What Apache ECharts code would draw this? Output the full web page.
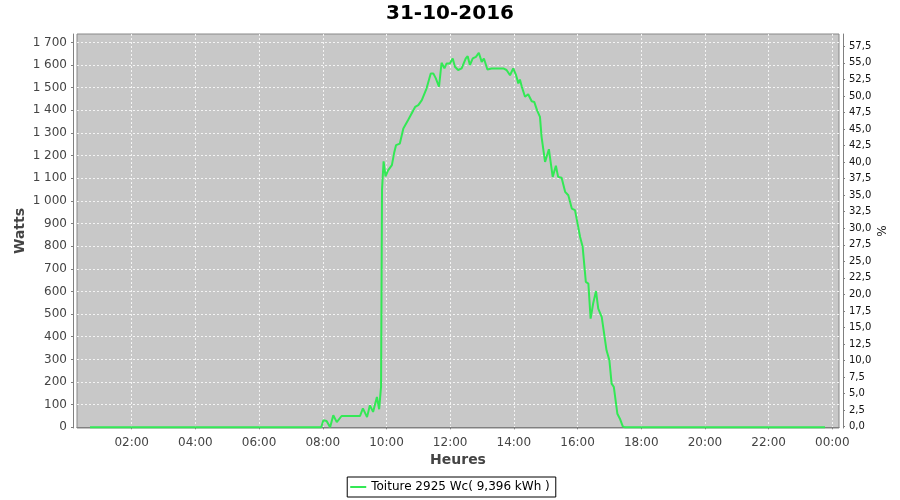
<!DOCTYPE html>
<html><head><meta charset="utf-8">
<script src="https://cdn.jsdelivr.net/npm/echarts@6/dist/echarts.min.js"></script>
<style>html,body{margin:0;padding:0;background:#fff}#c{width:900px;height:500px}</style>
</head><body><div id="c"></div>
<script>
const chartTitle = '31-10-2016';
const seriesName = 'Toiture 2925 Wc( 9,396 kWh )';
const xName = 'Heures', yName = 'Watts', y2Name = '%';
// time in decimal hours
const hours = [
0.69,1.0,1.5,2.0,2.5,3.0,3.5,4.0,4.5,5.0,
5.5,6.0,6.5,7.0,7.5,7.95,8.02,8.12,8.23,8.33,
8.44,8.59,8.8,9.0,9.17,9.26,9.39,9.48,9.58,9.70,
9.77,9.83,9.86,9.91,9.97,10.05,10.17,10.24,10.30,10.42,
10.53,10.68,10.90,11.00,11.11,11.26,11.39,11.47,11.55,11.65,
11.73,11.82,11.89,11.99,12.08,12.15,12.25,12.36,12.41,12.49,
12.55,12.62,12.71,12.81,12.90,12.99,13.06,13.17,13.30,13.46,
13.67,13.77,13.88,13.98,14.07,14.14,14.19,14.25,14.35,14.45,
14.56,14.64,14.73,14.82,14.87,14.98,15.10,15.22,15.32,15.39,
15.50,15.61,15.71,15.82,15.92,16.08,16.16,16.26,16.34,16.41,
16.49,16.58,16.65,16.76,16.91,17.00,17.07,17.14,17.25,17.33,
17.42,17.49,18.0,18.5,19.0,19.5,20.0,20.5,21.0,21.5,
22.0,22.5,23.0,23.5,23.77
];
const watts = [
0,0,0,0,0,0,0,0,0,0,
0,0,0,0,0,0,31,28,0,53,
23,50,50,50,50,84,45,97,68,134,
80,180,1050,1175,1108,1135,1158,1211,1246,1253,
1320,1357,1415,1423,1445,1497,1563,1563,1541,1504,
1610,1585,1607,1607,1629,1592,1578,1585,1578,1629,
1639,1600,1629,1636,1654,1614,1629,1580,1585,1585,
1585,1578,1555,1585,1555,1519,1536,1504,1460,1471,
1440,1437,1400,1371,1283,1172,1228,1106,1155,1106,
1102,1040,1025,966,959,841,797,642,635,480,
547,602,524,487,340,296,193,178,60,38,
4,0,0,0,0,0,0,0,0,0,
0,0,0,0,0
];
const xTicks = [2,4,6,8,10,12,14,16,18,20,22,24];
const leftTicks = [0,100,200,300,400,500,600,700,800,900,1000,1100,1200,1300,1400,1500,1600,1700];
const rightTicks = [0,2.5,5,7.5,10,12.5,15,17.5,20,22.5,25,27.5,30,32.5,35,37.5,40,42.5,45,47.5,50,52.5,55,57.5];

const FONT = 'DejaVu Sans';
const data = hours.map((h, i) => [h, watts[i]]);
const pad2 = n => (n < 10 ? '0' : '') + n;
const fmtW = v => v >= 1000 ? Math.floor(v / 1000) + ' ' + String(v % 1000).padStart(3, '0') : String(v);

const chart = echarts.init(document.getElementById('c'), null, {renderer: 'canvas'});
chart.setOption({
  animation: false,
  backgroundColor: '#ffffff',
  title: {
    text: chartTitle, left: 'center', top: 4, padding: 0,
    textStyle: {fontFamily: FONT, fontSize: 20, fontWeight: 'bold', color: '#000'}
  },
  legend: {
    data: [{name: seriesName, icon: 'rect'}], left: 'center', top: 477,
    borderColor: '#000', borderWidth: 1, borderRadius: 0, padding: [3, 6, 3, 3],
    itemWidth: 16, itemHeight: 2, itemStyle: {color: '#33e855', borderWidth: 0},
    textStyle: {fontFamily: FONT, fontSize: 12, color: '#000', lineHeight: 14}
  },
  grid: {
    left: 77, right: 61, top: 34, bottom: 72, show: true,
    backgroundColor: '#c8c8c8', borderColor: '#888', borderWidth: 1
  },
  xAxis: {
    type: 'value', min: 0.2823, max: 24.21, splitNumber: 12, minInterval: 2, maxInterval: 2,
    offset: 4,
    name: xName, nameLocation: 'middle', nameGap: 21, nameMoveOverlap: false,
    nameTextStyle: {fontFamily: FONT, fontSize: 14, fontWeight: 'bold', color: '#444'},
    axisLine: {show: true, lineStyle: {color: '#808080', width: 1}},
    axisTick: {show: true, length: 2, customValues: xTicks, lineStyle: {color: '#808080'}},
    axisLabel: {customValues: xTicks, margin: 5, fontFamily: FONT, fontSize: 12, color: '#444',
      formatter: v => pad2(Math.round(v) % 24) + ':00'},
    splitLine: {show: true, lineStyle: {color: '#f4f4f4', type: [2, 2], width: 1}}
  },
  yAxis: [{
    type: 'value', min: -3, max: 1737, splitNumber: 17, minInterval: 100, maxInterval: 100,
    position: 'left', offset: 4,
    name: yName, nameLocation: 'middle', nameGap: 46, nameMoveOverlap: false,
    nameTextStyle: {fontFamily: FONT, fontSize: 14, fontWeight: 'bold', color: '#444'},
    axisLine: {show: true, lineStyle: {color: '#808080', width: 1}},
    axisTick: {show: true, length: 2, customValues: leftTicks, lineStyle: {color: '#808080'}},
    axisLabel: {customValues: leftTicks, margin: 6, fontFamily: FONT, fontSize: 12, color: '#444',
      formatter: v => fmtW(Math.round(v))},
    splitLine: {show: true, lineStyle: {color: '#f4f4f4', type: [2, 2], width: 1}}
  }, {
    type: 'value', min: -0.2, max: 59.36, splitNumber: 24, minInterval: 2.5, maxInterval: 2.5,
    position: 'right', offset: 4,
    name: y2Name, nameLocation: 'middle', nameGap: 34, nameMoveOverlap: false,
    nameTextStyle: {fontFamily: FONT, fontSize: 12, color: '#222'},
    axisLine: {show: true, lineStyle: {color: '#808080', width: 1}},
    axisTick: {show: true, length: 2, customValues: rightTicks, lineStyle: {color: '#808080'}},
    axisLabel: {customValues: rightTicks, margin: 6, fontFamily: FONT, fontSize: 10, color: '#111',
      formatter: v => v.toFixed(1).replace('.', ',')},
    splitLine: {show: false}
  }],
  series: [{
    name: seriesName, type: 'line', yAxisIndex: 0, data: data,
    showSymbol: false, symbol: 'none',
    lineStyle: {color: '#33e855', width: 2}, itemStyle: {color: '#33e855'}
  }]
});
</script>
</body></html>
